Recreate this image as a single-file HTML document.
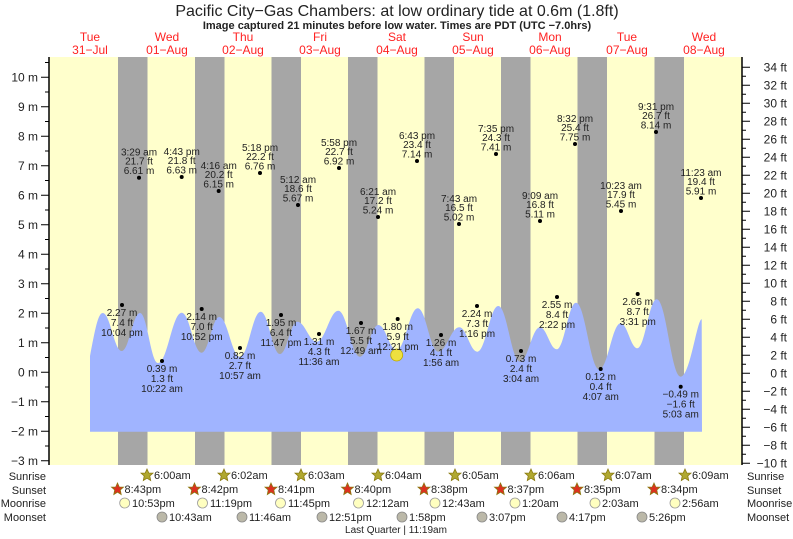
<!DOCTYPE html>
<html><head><meta charset="utf-8"><style>
html,body{margin:0;padding:0;background:#fff;}
svg{display:block;font-family:"Liberation Sans",sans-serif;}
.l{font-size:10px;fill:#222;text-anchor:middle;}
.ax{font-size:12px;fill:#222;}
.d{font-size:12px;fill:#f22;text-anchor:middle;}
.b{font-size:11px;fill:#222;}
</style></head><body>
<svg width="793" height="539" viewBox="0 0 793 539" xmlns="http://www.w3.org/2000/svg">
<rect x="0" y="0" width="793" height="539" fill="#fff"/>
<text x="397" y="16" text-anchor="middle" font-size="16" fill="#222">Pacific City−Gas Chambers: at low  ordinary tide at 0.6m (1.8ft)</text>
<text x="397" y="29" text-anchor="middle" font-size="11" font-weight="bold" fill="#222">Image captured 21 minutes before low water. Times are PDT (UTC −7.0hrs)</text>
<g class="d">
<text x="90" y="41">Tue</text><text x="90" y="54">31−Jul</text>
<text x="167" y="41">Wed</text><text x="167" y="54">01−Aug</text>
<text x="243" y="41">Thu</text><text x="243" y="54">02−Aug</text>
<text x="320" y="41">Fri</text><text x="320" y="54">03−Aug</text>
<text x="397" y="41">Sat</text><text x="397" y="54">04−Aug</text>
<text x="473" y="41">Sun</text><text x="473" y="54">05−Aug</text>
<text x="550" y="41">Mon</text><text x="550" y="54">06−Aug</text>
<text x="627" y="41">Tue</text><text x="627" y="54">07−Aug</text>
<text x="704" y="41">Wed</text><text x="704" y="54">08−Aug</text>
</g>
<rect x="49" y="57" width="693" height="408" fill="#ffffcc"/>
<g fill="#a6a6a6">
<rect x="118" y="57" width="29.5" height="408"/>
<rect x="195" y="57" width="29.5" height="408"/>
<rect x="271.5" y="57" width="29.5" height="408"/>
<rect x="348" y="57" width="29.5" height="408"/>
<rect x="424.5" y="57" width="29.5" height="408"/>
<rect x="501" y="57" width="29.5" height="408"/>
<rect x="577.5" y="57" width="29.5" height="408"/>
<rect x="654.5" y="57" width="29.5" height="408"/>
</g>
<path fill="#a0b4ff" d="M90,356 C95,330 98,313 102.7,313 C110.3,313 114.1,351 121.7,351 C129,351 132.7,313 140,313 C147.2,313 150.8,363 158,363 C167.5,363 172.2,312.7 181.7,312.7 C189.7,312.7 193.7,352.7 201.7,352.7 C208.7,352.7 212.3,317 219.3,317 C227.6,317 231.7,356.7 240,356.7 C248.3,356.7 252.4,311.7 260.7,311.7 C268.4,311.7 272.3,354 280,354 C286.9,354 290.4,321.7 297.3,321.7 C305.1,321.7 308.9,341.7 316.7,341.7 C325.3,341.7 329.7,310.7 338.3,310.7 C347,310.7 351.3,356.7 360,356.7 C367.3,356.7 371,325 378.3,325 C385.7,325 389.3,350 396.7,350 C405.1,350 409.4,308.3 417.8,308.3 C426,308.3 430.1,351.7 438.3,351.7 C446.7,351.7 450.9,327.3 459.3,327.3 C466.5,327.3 470.1,351.7 477.3,351.7 C485.7,351.7 489.9,306 498.3,306 C507,306 511.3,361.7 520,361.7 C528,361.7 532,327.3 540,327.3 C546.7,327.3 550,349.3 556.7,349.3 C564.4,349.3 568.3,302.7 576,302.7 C585.3,302.7 590,369.3 599.3,369.3 C607.9,369.3 612.1,323.3 620.7,323.3 C627.3,323.3 630.7,348.3 637.3,348.3 C645.1,348.3 648.9,299.3 656.7,299.3 C666.3,299.3 671.1,376.7 680.7,376.7 C690,376.7 697,319.3 701.7,319.3 L702,431.7 L90,431.7 Z"/>
<!-- axes -->
<line x1="49" y1="57" x2="49" y2="465" stroke="#000" stroke-width="1.5"/>
<line x1="742" y1="57" x2="742" y2="465" stroke="#000" stroke-width="1.5"/>
<g stroke="#000" stroke-width="1">
<path d="M41,77.3h8M41,106.8h8M41,136.3h8M41,165.8h8M41,195.3h8M41,224.8h8M41,254.3h8M41,283.8h8M41,313.3h8M41,342.8h8M41,372.3h8M41,401.8h8M41,431.3h8M41,460.8h8"/>
<path d="M45,62.5h4M45,92h4M45,121.5h4M45,151h4M45,180.5h4M45,210h4M45,239.5h4M45,269h4M45,298.5h4M45,328h4M45,357.5h4M45,387h4M45,416.5h4M45,446h4"/>
<path d="M742,67.3h8M742,85.3h8M742,103.3h8M742,121.3h8M742,139.3h8M742,157.3h8M742,175.3h8M742,193.3h8M742,211.3h8M742,229.3h8M742,247.3h8M742,265.3h8M742,283.3h8M742,301.3h8M742,319.3h8M742,337.3h8M742,355.3h8M742,373.3h8M742,391.3h8M742,409.3h8M742,427.3h8M742,445.3h8M742,463.3h8"/>
<path d="M742,76.3h4M742,94.3h4M742,112.3h4M742,130.3h4M742,148.3h4M742,166.3h4M742,184.3h4M742,202.3h4M742,220.3h4M742,238.3h4M742,256.3h4M742,274.3h4M742,292.3h4M742,310.3h4M742,328.3h4M742,346.3h4M742,364.3h4M742,382.3h4M742,400.3h4M742,418.3h4M742,436.3h4M742,454.3h4"/>
</g>
<g class="ax" text-anchor="end">
<text x="38" y="81.5">10 m</text><text x="38" y="111">9 m</text><text x="38" y="140.5">8 m</text><text x="38" y="170">7 m</text><text x="38" y="199.5">6 m</text><text x="38" y="229">5 m</text><text x="38" y="258.5">4 m</text><text x="38" y="288">3 m</text><text x="38" y="317.5">2 m</text><text x="38" y="347">1 m</text><text x="38" y="376.5">0 m</text><text x="38" y="406">−1 m</text><text x="38" y="435.5">−2 m</text><text x="38" y="465">−3 m</text>
</g>
<g class="ax" text-anchor="end">
<text x="787" y="71.5">34 ft</text><text x="787" y="89.5">32 ft</text><text x="787" y="107.5">30 ft</text><text x="787" y="125.5">28 ft</text><text x="787" y="143.5">26 ft</text><text x="787" y="161.5">24 ft</text><text x="787" y="179.5">22 ft</text><text x="787" y="197.5">20 ft</text><text x="787" y="215.5">18 ft</text><text x="787" y="233.5">16 ft</text><text x="787" y="251.5">14 ft</text><text x="787" y="269.5">12 ft</text><text x="787" y="287.5">10 ft</text><text x="787" y="305.5">8 ft</text><text x="787" y="323.5">6 ft</text><text x="787" y="341.5">4 ft</text><text x="787" y="359.5">2 ft</text><text x="787" y="377.5">0 ft</text><text x="787" y="395.5">−2 ft</text><text x="787" y="413.5">−4 ft</text><text x="787" y="431.5">−6 ft</text><text x="787" y="449.5">−8 ft</text><text x="787" y="467.5">−10 ft</text>
</g>
<!-- high labels -->
<g class="l">
<g transform="translate(139,177.7)"><circle r="2" fill="#000"/><text y="-22">3:29 am</text><text y="-13">21.7 ft</text><text y="-3.5">6.61 m</text></g>
<g transform="translate(181.7,177)"><circle r="2" fill="#000"/><text y="-22">4:43 pm</text><text y="-13">21.8 ft</text><text y="-3.5">6.63 m</text></g>
<g transform="translate(218.7,191)"><circle r="2" fill="#000"/><text y="-22">4:16 am</text><text y="-13">20.2 ft</text><text y="-3.5">6.15 m</text></g>
<g transform="translate(260,173)"><circle r="2" fill="#000"/><text y="-22">5:18 pm</text><text y="-13">22.2 ft</text><text y="-3.5">6.76 m</text></g>
<g transform="translate(298,205)"><circle r="2" fill="#000"/><text y="-22">5:12 am</text><text y="-13">18.6 ft</text><text y="-3.5">5.67 m</text></g>
<g transform="translate(339,168)"><circle r="2" fill="#000"/><text y="-22">5:58 pm</text><text y="-13">22.7 ft</text><text y="-3.5">6.92 m</text></g>
<g transform="translate(378,217)"><circle r="2" fill="#000"/><text y="-22">6:21 am</text><text y="-13">17.2 ft</text><text y="-3.5">5.24 m</text></g>
<g transform="translate(417,161)"><circle r="2" fill="#000"/><text y="-22">6:43 pm</text><text y="-13">23.4 ft</text><text y="-3.5">7.14 m</text></g>
<g transform="translate(459,224)"><circle r="2" fill="#000"/><text y="-22">7:43 am</text><text y="-13">16.5 ft</text><text y="-3.5">5.02 m</text></g>
<g transform="translate(496,154)"><circle r="2" fill="#000"/><text y="-22">7:35 pm</text><text y="-13">24.3 ft</text><text y="-3.5">7.41 m</text></g>
<g transform="translate(540,221)"><circle r="2" fill="#000"/><text y="-22">9:09 am</text><text y="-13">16.8 ft</text><text y="-3.5">5.11 m</text></g>
<g transform="translate(575,144)"><circle r="2" fill="#000"/><text y="-22">8:32 pm</text><text y="-13">25.4 ft</text><text y="-3.5">7.75 m</text></g>
<g transform="translate(621,211)"><circle r="2" fill="#000"/><text y="-22">10:23 am</text><text y="-13">17.9 ft</text><text y="-3.5">5.45 m</text></g>
<g transform="translate(656,132)"><circle r="2" fill="#000"/><text y="-22">9:31 pm</text><text y="-13">26.7 ft</text><text y="-3.5">8.14 m</text></g>
<g transform="translate(701,198)"><circle r="2" fill="#000"/><text y="-22">11:23 am</text><text y="-13">19.4 ft</text><text y="-3.5">5.91 m</text></g>
</g>
<circle cx="396.7" cy="355" r="6" fill="#eee040" stroke="#bba800" stroke-width="0.8"/>
<!-- low labels -->
<g class="l">
<g transform="translate(122,305)"><circle r="2" fill="#000"/><text y="11">2.27 m</text><text y="21">7.4 ft</text><text y="31">10:04 pm</text></g>
<g transform="translate(162,361)"><circle r="2" fill="#000"/><text y="11">0.39 m</text><text y="21">1.3 ft</text><text y="31">10:22 am</text></g>
<g transform="translate(201.7,309)"><circle r="2" fill="#000"/><text y="11">2.14 m</text><text y="21">7.0 ft</text><text y="31">10:52 pm</text></g>
<g transform="translate(240,348)"><circle r="2" fill="#000"/><text y="11">0.82 m</text><text y="21">2.7 ft</text><text y="31">10:57 am</text></g>
<g transform="translate(281,315)"><circle r="2" fill="#000"/><text y="11">1.95 m</text><text y="21">6.4 ft</text><text y="31">11:47 pm</text></g>
<g transform="translate(319,334)"><circle r="2" fill="#000"/><text y="11">1.31 m</text><text y="21">4.3 ft</text><text y="31">11:36 am</text></g>
<g transform="translate(361,323)"><circle r="2" fill="#000"/><text y="11">1.67 m</text><text y="21">5.5 ft</text><text y="31">12:49 am</text></g>
<g transform="translate(397.7,319)"><circle r="2" fill="#000"/><text y="11">1.80 m</text><text y="21">5.9 ft</text><text y="31">12:21 pm</text></g>
<g transform="translate(441,335)"><circle r="2" fill="#000"/><text y="11">1.26 m</text><text y="21">4.1 ft</text><text y="31">1:56 am</text></g>
<g transform="translate(477,306)"><circle r="2" fill="#000"/><text y="11">2.24 m</text><text y="21">7.3 ft</text><text y="31">1:16 pm</text></g>
<g transform="translate(521,351)"><circle r="2" fill="#000"/><text y="11">0.73 m</text><text y="21">2.4 ft</text><text y="31">3:04 am</text></g>
<g transform="translate(557,297)"><circle r="2" fill="#000"/><text y="11">2.55 m</text><text y="21">8.4 ft</text><text y="31">2:22 pm</text></g>
<g transform="translate(600.7,369)"><circle r="2" fill="#000"/><text y="11">0.12 m</text><text y="21">0.4 ft</text><text y="31">4:07 am</text></g>
<g transform="translate(637.7,294)"><circle r="2" fill="#000"/><text y="11">2.66 m</text><text y="21">8.7 ft</text><text y="31">3:31 pm</text></g>
<g transform="translate(680.7,386.7)"><circle r="2" fill="#000"/><text y="11">−0.49 m</text><text y="21">−1.6 ft</text><text y="31">5:03 am</text></g>
</g>
<!-- bottom rows -->
<g class="b">
<text x="46" y="480" text-anchor="end">Sunrise</text><text x="46" y="494" text-anchor="end">Sunset</text><text x="46" y="507" text-anchor="end">Moonrise</text><text x="46" y="521" text-anchor="end">Moonset</text>
<text x="747" y="480">Sunrise</text><text x="747" y="494">Sunset</text><text x="747" y="507">Moonrise</text><text x="747" y="521">Moonset</text>
</g>
<defs>
<polygon id="st" points="0,-6 1.8,-2 6,-1.9 2.8,1 3.7,5.5 0,3.2 -3.7,5.5 -2.8,1 -6,-1.9 -1.8,-2"/>
</defs>
<g fill="#b0a830" stroke="#8a7a10" stroke-width="0.8">
<use href="#st" x="147" y="475"/><use href="#st" x="224" y="475"/><use href="#st" x="301" y="475"/><use href="#st" x="378" y="475"/><use href="#st" x="455" y="475"/><use href="#st" x="531" y="475"/><use href="#st" x="608" y="475"/><use href="#st" x="685" y="475"/>
</g>
<g fill="#dd3020" stroke="#8a7a10" stroke-width="0.8">
<use href="#st" x="117.5" y="489"/><use href="#st" x="194.5" y="489"/><use href="#st" x="271" y="489"/><use href="#st" x="347.5" y="489"/><use href="#st" x="424" y="489"/><use href="#st" x="500.5" y="489"/><use href="#st" x="577" y="489"/><use href="#st" x="654" y="489"/>
</g>
<g class="b">
<text x="154" y="479">6:00am</text><text x="231" y="479">6:02am</text><text x="308" y="479">6:03am</text><text x="385" y="479">6:04am</text><text x="462" y="479">6:05am</text><text x="538" y="479">6:06am</text><text x="615" y="479">6:07am</text><text x="692" y="479">6:09am</text>
<text x="124.5" y="493">8:43pm</text><text x="201.5" y="493">8:42pm</text><text x="278" y="493">8:41pm</text><text x="354.5" y="493">8:40pm</text><text x="431" y="493">8:38pm</text><text x="507.5" y="493">8:37pm</text><text x="584" y="493">8:35pm</text><text x="661" y="493">8:34pm</text>
</g>
<g fill="#ffffc0" stroke="#999" stroke-width="0.8">
<circle cx="124.7" cy="503" r="5"/><circle cx="202.5" cy="503" r="5"/><circle cx="280.5" cy="503" r="5"/><circle cx="358.5" cy="503" r="5"/><circle cx="435" cy="503" r="5"/><circle cx="515" cy="503" r="5"/><circle cx="595" cy="503" r="5"/><circle cx="675" cy="503" r="5"/>
</g>
<g fill="#bbb8a8" stroke="#888" stroke-width="0.8">
<circle cx="162" cy="517" r="5"/><circle cx="242" cy="517" r="5"/><circle cx="322" cy="517" r="5"/><circle cx="402" cy="517" r="5"/><circle cx="482" cy="517" r="5"/><circle cx="562" cy="517" r="5"/><circle cx="642" cy="517" r="5"/>
</g>
<g class="b">
<text x="132" y="507">10:53pm</text><text x="210" y="507">11:19pm</text><text x="288" y="507">11:45pm</text><text x="366" y="507">12:12am</text><text x="442" y="507">12:43am</text><text x="522" y="507">1:20am</text><text x="602" y="507">2:03am</text><text x="682" y="507">2:56am</text>
<text x="169" y="521">10:43am</text><text x="249" y="521">11:46am</text><text x="329" y="521">12:51pm</text><text x="409" y="521">1:58pm</text><text x="489" y="521">3:07pm</text><text x="569" y="521">4:17pm</text><text x="649" y="521">5:26pm</text>
</g>
<text x="396" y="533" text-anchor="middle" font-size="10" fill="#222">Last Quarter | 11:19am</text>
</svg>
</body></html>
